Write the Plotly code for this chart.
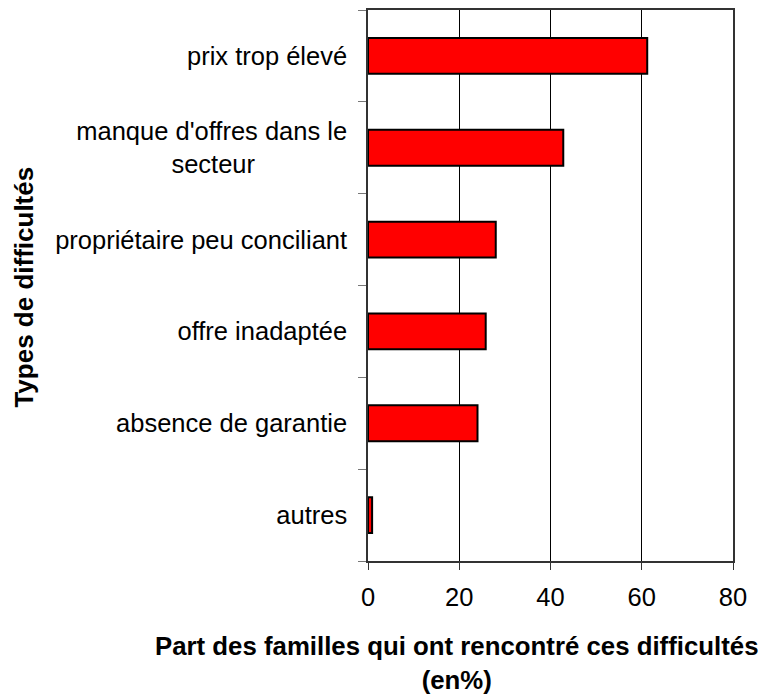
import plotly.graph_objects as go

# ─────────────────────────────────────────────
# DATA
# ─────────────────────────────────────────────
categories = [
    "prix trop élevé",
    "manque d'offres dans le<br>secteur" + "\u00a0" * 13,
    "propriétaire peu conciliant",
    "offre inadaptée",
    "absence de garantie",
    "autres",
]
shares = [61.2, 42.8, 28.0, 25.8, 24.0, 0.9]

x_ticks = [0, 20, 40, 60, 80]

FONT = "Liberation Sans, Arial, sans-serif"

fig = go.Figure()
fig.add_trace(go.Bar(
    x=shares,
    y=categories,
    orientation="h",
    marker=dict(color="#ff0000", line=dict(color="black", width=2)),
    width=0.39,
    hoverinfo="x+y",
))

# the page body adds 8px around the figure
fig.update_layout(
    width=776, height=695,
    margin=dict(l=360, r=51, t=0, b=142),
    paper_bgcolor="white",
    plot_bgcolor="white",
    font=dict(family=FONT, size=25.5, color="black"),
    showlegend=False,
)

fig.update_xaxes(
    range=[0, 80],
    tickvals=x_ticks,
    ticks="outside", ticklen=7, tickcolor="#333",
    ticklabelstandoff=6,
    showgrid=True, gridcolor="black", gridwidth=1,
    showline=True, linecolor="#333", linewidth=1.5, mirror=True,
    zeroline=False,
    tickfont=dict(size=25.5),
)
fig.update_yaxes(
    categoryorder="array",
    categoryarray=categories[::-1],
    ticks="outside", ticklen=8, tickcolor="#777",
    tickson="boundaries",
    ticklabelstandoff=14,
    showline=True, linecolor="#333", linewidth=1.5, mirror=True,
    showgrid=False,
    tickfont=dict(size=25.5),
)

# axis titles as annotations (placed like the original)
fig.add_annotation(
    text="<b>Part des familles qui ont rencontré ces difficultés<br>(en%)</b>",
    xref="paper", yref="paper", x=0.2425, y=-0.1854,
    xanchor="center", yanchor="middle", showarrow=False,
    font=dict(size=25.8),
)
fig.add_annotation(
    text="<b>Types de difficultés</b>",
    xref="paper", yref="paper", x=-0.9425, y=0.498,
    xanchor="center", yanchor="middle", textangle=-90, showarrow=False,
    font=dict(size=26),
)

fig.write_html("out.html")
